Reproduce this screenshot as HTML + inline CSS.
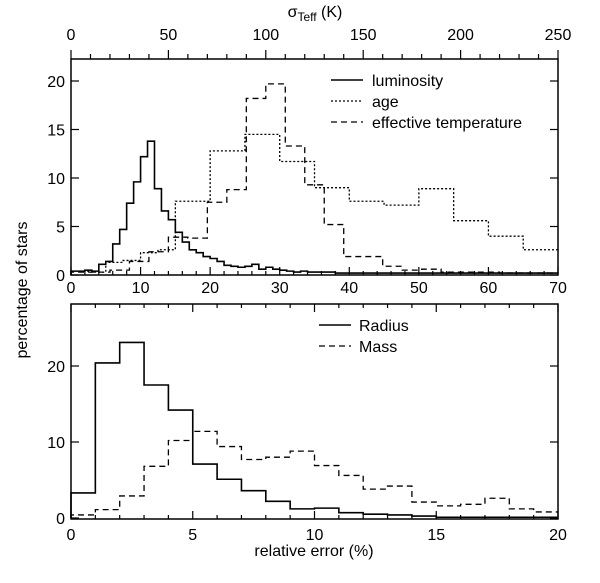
<!DOCTYPE html>
<html><head><meta charset="utf-8"><style>
html,body{margin:0;padding:0;background:#fff;}
svg{display:block;font-family:"Liberation Sans",sans-serif;}
</style></head><body>
<svg id="chart" width="600" height="583" viewBox="0 0 600 583" xmlns="http://www.w3.org/2000/svg"></svg>
<script>
// ---- data ----
const lumEdges = [0,1,2,3,4,5,6,7,8,9,10,11,12,13,14,15,16,17,18,19,20,21,22,23,24,25,26,27,28,29,30,31,32,33,34,35,36,38,40,45,50,55,60,65,70];
const lumVals = [0.4,0.4,0.5,0.4,1.1,1.4,3.2,4.7,7.4,9.6,12.2,13.8,8.9,6.6,5.7,4.4,3.4,2.6,2.3,1.9,1.7,1.4,1.0,0.9,0.8,0.9,1.1,0.6,0.8,0.6,0.5,0.4,0.3,0.4,0.3,0.3,0.3,0.2,0.2,0.2,0.2,0.2,0.2,0.2];
const ageEdges = [0,2.5,5,7.5,10,12.5,15,20,25,30,35,40,45,50,55,60,65,70];
const ageVals = [0.4,0.3,1.3,1.5,2.3,2.6,7.6,12.8,14.5,11.7,9.0,7.6,7.2,8.9,5.6,4.0,2.6];
const teffEdges = [0,2.8,5.6,8.4,11.2,14,16.8,19.6,22.4,25.2,28,30.8,33.6,36.4,39.2,42,44.8,47.6,50.4,53.2,56,58.8,61.6,64.4,67.2,70];
const teffVals = [0.3,0.3,0.5,1.4,2.4,3.9,3.8,7.5,8.8,18.2,19.7,13.3,9.3,5.2,1.9,1.9,0.9,0.5,0.6,0.3,0.3,0.3,0.2,0.2,0.2];
const massRadEdges = [0,1,2,3,4,5,6,7,8,9,10,11,12,13,14,15,16,17,18,19,20];
const radiusVals = [3.3,20.4,23.1,17.5,14.2,7.1,5.1,3.6,2.2,1.2,1.3,0.7,0.5,0.4,0.26,0.1,0.1,0.1,0.1,0.1];
const massVals = [0.4,1.1,2.9,6.8,10.2,11.4,9.4,7.7,8.0,8.8,6.9,5.6,3.8,4.2,2.1,1.6,1.8,2.6,1.2,0.8];
const topXTicks = [0,10,20,30,40,50,60,70];
const teffTicks = [0,50,100,150,200,250];
const topYTicks = [0,5,10,15,20];
const botXTicks = [0,5,10,15,20];
const botYTicks = [0,10,20];

const NS="http://www.w3.org/2000/svg";
const svg=document.getElementById('chart');
function el(tag,attrs,parent){const e=document.createElementNS(NS,tag);for(const k in attrs)e.setAttribute(k,attrs[k]);(parent||svg).appendChild(e);return e;}
const FS=16;

const L=71,R=558;
const T1=59,B1=275,T2=304,B2=519;
const x1=v=>L+(v/70)*(R-L);
const y1=v=>B1-v*9.7;
const xt=v=>L+(v/250)*(R-L);
const x2=v=>L+(v/20)*(R-L);
const y2=v=>518-v*7.6;

function stepPath(edges,vals,xf,yf){
  let d='M'+xf(edges[0])+','+yf(0);
  for(let i=0;i<vals.length;i++){d+=' L'+xf(edges[i])+','+yf(vals[i])+' L'+xf(edges[i+1])+','+yf(vals[i]);}
  return d;
}
const txt=(x,y,s,anchor,parent)=>{const t=el('text',{x:x,y:y,'font-size':FS,'text-anchor':anchor||'middle',fill:'#000'},parent);t.textContent=s;return t;};

// ---- top panel ----
const g1=el('g',{});


el('rect',{x:L,y:T1,width:R-L,height:B1-T1,fill:'none',stroke:'#000','stroke-width':1.5},g1);
for(let v=0;v<=70;v+=2){const maj=v%10===0;el('line',{x1:x1(v),y1:B1,x2:x1(v),y2:B1-(maj?8:4),stroke:'#000','stroke-width':1.2},g1);}
topXTicks.forEach(v=>{const t=txt(x1(v),293,String(v),'middle',g1);});
for(let v=0;v<=250;v+=10){const maj=v%50===0;el('line',{x1:xt(v),y1:T1,x2:xt(v),y2:T1-(maj?9:5),stroke:'#000','stroke-width':1.2},g1);}
teffTicks.forEach(v=>{const t=txt(xt(v),40,String(v),'middle',g1);});
const st=el('text',{x:315,y:17,'font-size':FS,'text-anchor':'middle'},g1);


st.innerHTML='σ<tspan font-size="12" dy="4">Teff</tspan><tspan dy="-4"> (K)</tspan>';
topYTicks.forEach(v=>{
  el('line',{x1:L,y1:y1(v),x2:L+8,y2:y1(v),stroke:'#000','stroke-width':1.2},g1);
  el('line',{x1:R,y1:y1(v),x2:R-8,y2:y1(v),stroke:'#000','stroke-width':1.2},g1);
  const t=txt(L-6,y1(v)+6,String(v),'end',g1);
  
});
const pl=el('path',{d:stepPath(lumEdges,lumVals,x1,y1),fill:'none',stroke:'#000','stroke-width':1.6},g1);

const pa=el('path',{d:stepPath(ageEdges,ageVals,x1,y1),fill:'none',stroke:'#000','stroke-width':1.3,'stroke-dasharray':'2,2'},g1);

const pt=el('path',{d:stepPath(teffEdges,teffVals,x1,y1),fill:'none',stroke:'#000','stroke-width':1.3,'stroke-dasharray':'6,4'},g1);

const lg1=el('g',{},g1);

[['luminosity','none',1.6],['age','2,2',1.3],['effective temperature','6,4',1.3]].forEach((e,i)=>{
  const y=80+i*21;
  el('line',{x1:331,y1:y,x2:363,y2:y,stroke:'#000','stroke-width':e[2],'stroke-dasharray':e[1]},lg1);
  const t=txt(372,y+6,e[0],'start',lg1);
});

// ---- bottom panel ----
const g2=el('g',{});


el('rect',{x:L,y:T2,width:R-L,height:B2-T2,fill:'none',stroke:'#000','stroke-width':1.5},g2);
for(let v=0;v<=20;v+=1){const maj=v%5===0;const h=maj?8:4;
  el('line',{x1:x2(v),y1:B2,x2:x2(v),y2:B2-h,stroke:'#000','stroke-width':1.2},g2);
  el('line',{x1:x2(v),y1:T2,x2:x2(v),y2:T2+h,stroke:'#000','stroke-width':1.2},g2);}
botXTicks.forEach(v=>{const t=txt(x2(v),540,String(v),'middle',g2);});
botYTicks.forEach(v=>{
  el('line',{x1:L,y1:y2(v),x2:L+8,y2:y2(v),stroke:'#000','stroke-width':1.2},g2);
  el('line',{x1:R,y1:y2(v),x2:R-8,y2:y2(v),stroke:'#000','stroke-width':1.2},g2);
  const t=txt(L-6,y2(v)+6,String(v),'end',g2);
});
const pr=el('path',{d:stepPath(massRadEdges,radiusVals,x2,y2),fill:'none',stroke:'#000','stroke-width':1.6},g2);

const pm=el('path',{d:stepPath(massRadEdges,massVals,x2,y2),fill:'none',stroke:'#000','stroke-width':1.3,'stroke-dasharray':'6,4'},g2);

const lg2=el('g',{},g2);

[['Radius','none',1.6],['Mass','6,4',1.3]].forEach((e,i)=>{
  const y=325+i*21;
  el('line',{x1:319,y1:y,x2:351,y2:y,stroke:'#000','stroke-width':e[2],'stroke-dasharray':e[1]},lg2);
  const t=txt(359,y+6,e[0],'start',lg2);
});

const xl=txt(314,556,'relative error (%)','middle');

const yl=el('text',{x:0,y:0,'font-size':FS,'text-anchor':'middle',transform:'translate(27,290) rotate(-90)'});
yl.textContent='percentage of stars';

</script>
</body></html>
